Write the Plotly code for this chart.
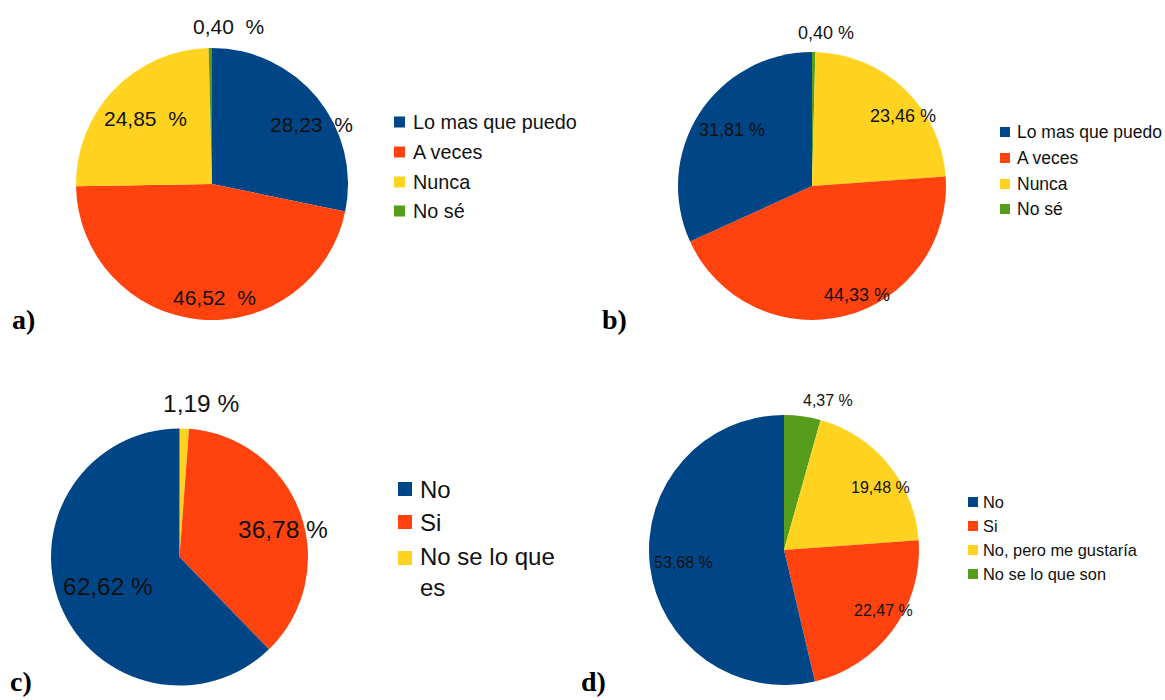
import math
import textwrap
import plotly.graph_objects as go

W, H = 1165, 700

# ---- data -------------------------------------------------------------
A_LABELS = ["Lo mas que puedo", "A veces", "Nunca", "No sé"]
A_VALUES = [28.23, 46.52, 24.85, 0.40]

B_LABELS = ["Lo mas que puedo", "A veces", "Nunca", "No sé"]
B_VALUES = [31.81, 44.33, 23.46, 0.40]

C_LABELS = ["No", "Si", "No se lo que es"]
C_VALUES = [62.62, 36.78, 1.19]

D_LABELS = ["No", "Si", "No, pero me gustaría", "No se lo que son"]
D_VALUES = [53.68, 22.47, 19.48, 4.37]

# ---- styling ------------------------------------------------------------
COLORS = ["#004586", "#ff420e", "#ffd320", "#579d1c"]
SANS = "Liberation Sans, Arial, sans-serif"
SERIF = "Liberation Serif, Times New Roman, serif"
INK = "#111111"

PANELS = [
    dict(tag="a)", labels=A_LABELS, values=A_VALUES, direction="clockwise",
         cx=212, cy=184, r=136, pct_font=21, pct_sep="\u00a0\u00a0",
         label_r=[0.84, 0.83, 0.69, 1.16],
         label_shift=[(11, 13), (13, 1), (1, -1), (18, 0)],
         legend=dict(x=394, rows=[122, 152, 182, 211], box=11, gap=6, font=19.8, wrap=None),
         tag_pos=(10, 320), tag_anchor="middle"),
    dict(tag="b)", labels=B_LABELS, values=B_VALUES, direction="counterclockwise",
         cx=812, cy=186, r=134, pct_font=18, pct_sep="\u00a0",
         label_r=[0.73, 0.87, 0.85, 1.14],
         label_shift=[(2, -3), (16, -4), (12, 12), (12, 0)],
         legend=dict(x=1000, rows=[132, 158, 184, 209], box=10, gap=5, font=17.5, wrap=None),
         tag_pos=(600, 320), tag_anchor="middle"),
    dict(tag="c)", labels=C_LABELS, values=C_VALUES, direction="counterclockwise",
         cx=179.5, cy=557, r=128.5, pct_font=24.5, pct_sep="\u00a0",
         label_r=[0.60, 0.83, 1.20],
         label_shift=[(0, 1), (3, 9), (16, 1)],
         legend=dict(x=398, rows=[489, 522, 558], box=14, gap=6, font=24, wrap=12),
         tag_pos=(8, 699), tag_anchor="bottom"),
    dict(tag="d)", labels=D_LABELS, values=D_VALUES, direction="counterclockwise",
         cx=784, cy=550, r=135, pct_font=16, pct_sep="\u00a0",
         label_r=[0.75, 0.86, 0.85, 1.14],
         label_shift=[(0, 1), (6, -8), (8, 10), (23, 3)],
         legend=dict(x=968, rows=[502, 526, 550, 574], box=10, gap=3, font=16.4, wrap=None),
         tag_pos=(579, 699), tag_anchor="bottom"),
]


def px_x(x):
    return x / W


def px_y(y):
    return 1 - y / H


def fmt_pct(v, sep):
    return f"{v:.2f}".replace(".", ",") + sep + "%"


fig = go.Figure()
annotations = []
shapes = []

for p in PANELS:
    n = len(p["values"])
    cx, cy, r = p["cx"], p["cy"], p["r"]
    colors = COLORS[:n]

    # slices always start at 12 o'clock and run clockwise; a counterclockwise
    # panel is drawn by feeding the slices in reverse order
    labels, values = list(p["labels"]), list(p["values"])
    if p["direction"] == "counterclockwise":
        labels, values, colors = labels[::-1], values[::-1], colors[::-1]

    fig.add_trace(go.Pie(
        labels=labels,
        values=values,
        sort=False,
        direction="clockwise",
        rotation=0,
        marker=dict(colors=colors, line=dict(width=0)),
        textinfo="none",
        hoverinfo="label+percent",
        showlegend=False,
        domain=dict(x=[px_x(cx - r), px_x(cx + r)],
                    y=[px_y(cy + r), px_y(cy - r)]),
    ))

    # percentage labels placed along each slice's middle angle
    total = sum(p["values"])
    sign = -1 if p["direction"] == "clockwise" else 1
    cum = 0.0
    for i, v in enumerate(p["values"]):
        mid = (cum + v / 2) / total
        cum += v
        theta = math.radians(90 + sign * 360 * mid)
        rr = p["label_r"][i] * r
        sx, sy = p["label_shift"][i]
        lx = cx + rr * math.cos(theta) + sx
        ly = cy - rr * math.sin(theta) + sy
        annotations.append(dict(
            x=px_x(lx), y=px_y(ly), xref="paper", yref="paper",
            text=fmt_pct(v, p["pct_sep"]), showarrow=False,
            xanchor="center", yanchor="middle",
            font=dict(family=SANS, size=p["pct_font"], color=INK),
        ))

    # legend: colour squares with category names
    lg = p["legend"]
    for i, name in enumerate(p["labels"]):
        row = lg["rows"][i]
        b = lg["box"]
        shapes.append(dict(
            type="rect", xref="paper", yref="paper",
            x0=px_x(lg["x"]), x1=px_x(lg["x"] + b),
            y0=px_y(row + b / 2), y1=px_y(row - b / 2),
            fillcolor=COLORS[i], line=dict(width=0),
        ))
        lines = textwrap.wrap(name, lg["wrap"]) if lg["wrap"] else [name]
        if len(lines) == 1:
            ty, yanchor = row, "middle"
        else:
            ty, yanchor = row - 0.7 * lg["font"], "top"
        annotations.append(dict(
            x=px_x(lg["x"] + b + lg["gap"]), y=px_y(ty),
            xref="paper", yref="paper",
            text="<br>".join(lines), showarrow=False, align="left",
            xanchor="left", yanchor=yanchor,
            font=dict(family=SANS, size=lg["font"], color=INK),
        ))

    # panel tag
    tx, ty = p["tag_pos"]
    annotations.append(dict(
        x=px_x(tx), y=px_y(ty), xref="paper", yref="paper",
        text=p["tag"], showarrow=False, xanchor="left", yanchor=p["tag_anchor"],
        font=dict(family=SERIF, size=28, color="#000000", weight="bold"),
    ))

fig.update_layout(
    width=W, height=H,
    margin=dict(l=0, r=0, t=0, b=0),
    paper_bgcolor="#ffffff",
    plot_bgcolor="#ffffff",
    annotations=annotations,
    shapes=shapes,
)

fig.write_html("out.html")
